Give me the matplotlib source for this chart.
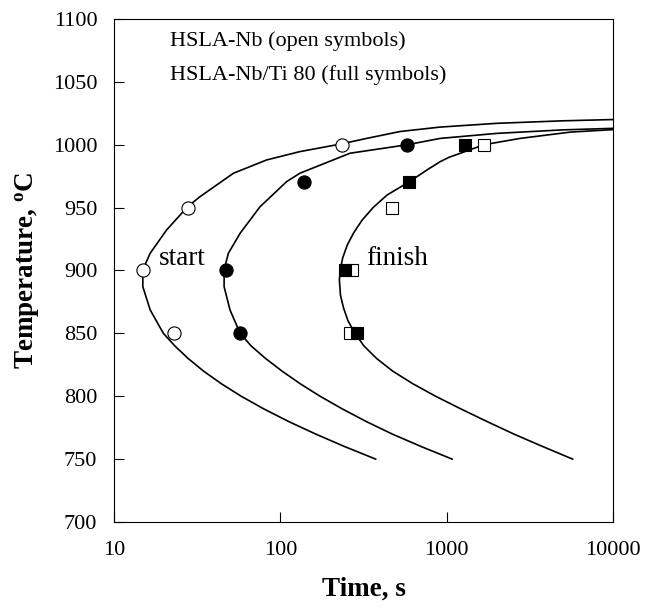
import matplotlib
matplotlib.use('Agg')
import matplotlib.pyplot as plt

# ====================== DATA ======================
# measured points, temperature in C, time in s
T_open_circ = [1000, 950, 900, 850]
t_open_circ = [235, 27.7, 14.9, 22.9]
T_full_circ = [1000, 970, 900, 850]
t_full_circ = [581, 139.5, 47, 57.3]
T_open_sq = [1000, 950, 900, 850]
t_open_sq = [1686, 470, 268, 262]
T_full_sq = [1000, 970, 900, 850]
t_full_sq = [1290, 590, 243, 290]

# fitted C-curves
T_curve1 = [1020, 1019, 1017, 1014, 1010.5, 1005, 1000.6, 994.5, 987.9, 977.3, 958.7, 950.7, 932.2,
            913.7, 900.6, 887.1, 868.6, 850, 840, 830, 820, 810, 800, 790, 780, 770, 760, 750]
t_curve1 = [10000, 5000, 2000, 912, 525, 330, 232, 131, 82.8, 52.2, 32.9, 27.7, 20.7,
            16.5, 14.9, 14.9, 16.5, 19.8, 23.2, 27.9, 34.5, 44.1, 58.1, 79.3, 111.7, 162.5, 243, 374]
T_curve2 = [1013, 1011.8, 1009, 1005, 1000, 993.2, 977.3, 970.6, 950.7, 929.6, 913.7, 900.6, 887.1,
            868.6, 850, 840, 830, 820, 810, 800, 790, 780, 770, 760, 750]
t_curve2 = [10000, 5000, 2000, 912, 581, 262, 131, 109, 75.5, 57.3, 48.7, 45.9, 45.9,
            49.8, 57.3, 66.7, 81.5, 102.3, 131.3, 173.2, 235, 327, 469, 702, 1077]
T_curve3 = [1012, 1010, 1005, 1000, 990, 986.5, 980, 970, 960, 950, 940, 930, 920, 910, 900, 892.4,
            880, 870, 860, 850, 840, 830, 820, 810, 800, 790, 780, 770, 760, 750]
t_curve3 = [10000, 5521, 2761, 1678, 1033, 913, 763, 587, 438, 361, 310, 276, 252, 237, 229, 226.3,
            230, 240, 255, 281, 318, 379, 473, 624, 857, 1213, 1739, 2525, 3774, 5715]

plt.rcParams['font.family'] = 'Liberation Serif'
plt.rcParams['mathtext.fontset'] = 'custom'
plt.rcParams['mathtext.rm'] = 'Liberation Serif'
plt.rcParams['mathtext.bf'] = 'Liberation Serif:bold'

fig = plt.figure(figsize=(6.46, 6.11), dpi=100)
ax = fig.add_axes([0.1765, 0.1457, 0.7725, 0.8233])

for t, T in [(t_curve1, T_curve1), (t_curve2, T_curve2), (t_curve3, T_curve3)]:
    ax.plot(t, T, color='black', linewidth=1.2, zorder=2)

ax.plot(t_open_circ, T_open_circ, 'o', ms=9.5, mfc='white', mec='black', mew=0.8, zorder=3)
ax.plot(t_full_circ, T_full_circ, 'o', ms=9.5, mfc='black', mec='black', mew=0.8, zorder=3)
ax.plot(t_open_sq, T_open_sq, 's', ms=8.5, mfc='white', mec='black', mew=0.8, zorder=3)
ax.plot(t_full_sq, T_full_sq, 's', ms=8.5, mfc='black', mec='black', mew=0.8, zorder=4)

ax.set_xscale('log')
ax.set_xlim(10, 10000)
ax.set_ylim(700, 1100)
ax.set_xticks([10, 100, 1000, 10000])
ax.set_xticklabels(['10', '100', '1000', '10000'])
ax.set_yticks(range(700, 1101, 50))
ax.minorticks_off()
ax.tick_params(direction='in', length=7, width=0.8, labelsize=16, top=False, right=False)
ax.tick_params(axis='x', pad=14)
ax.tick_params(axis='y', pad=12)
for s in ax.spines.values():
    s.set_linewidth(0.8)

ax.text(0.112, 0.946, 'HSLA-Nb (open symbols)', transform=ax.transAxes, fontsize=16)
ax.text(0.112, 0.879, 'HSLA-Nb/Ti 80 (full symbols)', transform=ax.transAxes, fontsize=16)
ax.text(0.090, 0.511, 'start', transform=ax.transAxes, fontsize=19.5)
ax.text(0.506, 0.511, 'finish', transform=ax.transAxes, fontsize=19.5)

ax.set_xlabel('Time, s', fontsize=19.5, fontweight='bold', labelpad=12)
ax.set_ylabel(r'Temperature, $\mathbf{^{o}}$C', fontsize=19.5, fontweight='bold', labelpad=8)

fig.savefig('out.png', dpi=100)
